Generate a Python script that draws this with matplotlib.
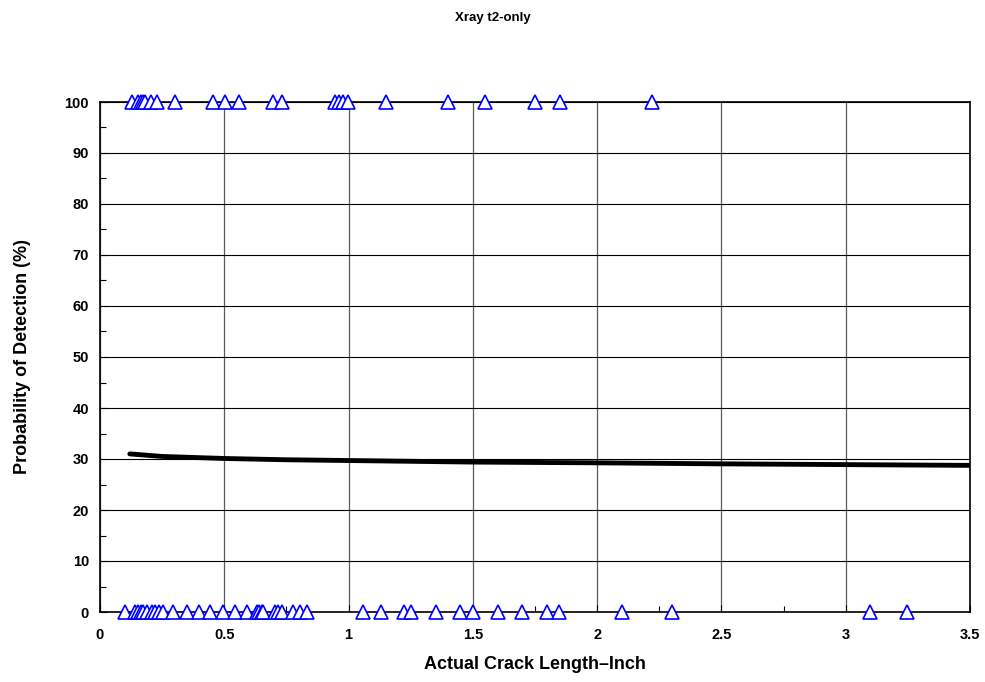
import matplotlib
matplotlib.use("Agg")
import matplotlib.pyplot as plt
from matplotlib.ticker import MultipleLocator

plt.rcParams['font.family'] = ['Liberation Sans', 'DejaVu Sans']

# Detected (hit) crack lengths, POD = 100
hit_x = [0.127, 0.154, 0.164, 0.172, 0.181, 0.204, 0.231, 0.302, 0.456, 0.503, 0.559,
         0.697, 0.731, 0.945, 0.963, 0.979, 0.999, 1.149, 1.401, 1.549, 1.750, 1.851, 2.220]
hit_y = [100] * len(hit_x)

# Missed crack lengths, POD = 0
miss_x = [0.100, 0.141, 0.153, 0.165, 0.173, 0.189, 0.209, 0.221, 0.237, 0.253, 0.294,
          0.350, 0.398, 0.443, 0.495, 0.543, 0.591, 0.632, 0.640, 0.652, 0.656, 0.704,
          0.716, 0.732, 0.776, 0.805, 0.833, 1.059, 1.129, 1.224, 1.251, 1.351, 1.448,
          1.502, 1.600, 1.699, 1.800, 1.848, 2.099, 2.300, 3.098, 3.248]
miss_y = [0] * len(miss_x)

# Fitted POD curve
curve_x = [0.12, 0.25, 0.5, 0.75, 1.0, 1.5, 2.0, 2.5, 3.0, 3.5]
curve_y = [31.0, 30.5, 30.1, 29.85, 29.7, 29.4, 29.25, 29.05, 28.9, 28.75]

title = "Xray t2-only"
xlabel = "Actual Crack Length\u2013Inch"
ylabel = "Probability of Detection (%)"

fig = plt.figure(figsize=(9.85, 6.82), dpi=100)
ax = fig.add_axes([100/985, (682-612)/682, 870/985, 510/682])

ax.set_xlim(0, 3.5)
ax.set_ylim(0, 100)
ax.xaxis.set_minor_locator(MultipleLocator(0.25))
ax.yaxis.set_minor_locator(MultipleLocator(5))
ax.xaxis.grid(True, which='major', color='0.35', linewidth=0.9)
ax.yaxis.grid(True, which='major', color='black', linewidth=0.8)
ax.set_axisbelow(True)
ax.tick_params(which='both', direction='in', labelsize=10.5, width=0.8)
ax.tick_params(which='major', length=5)
ax.tick_params(which='minor', length=4)
ax.set_xticks([0, 0.5, 1, 1.5, 2, 2.5, 3, 3.5])
ax.set_xticklabels(['0', '0.5', '1', '1.5', '2', '2.5', '3', '3.5'], fontweight='bold')
ax.set_yticks(range(0, 101, 10))
ax.set_yticklabels([str(v) for v in range(0, 101, 10)], fontweight='bold')
ax.tick_params(axis='x', pad=11.5)
ax.tick_params(axis='y', pad=8)
for s in ax.spines.values():
    s.set_linewidth(1.2)

ax.plot(curve_x, curve_y, color='black', linewidth=3.5, solid_capstyle='round', zorder=3)
ax.plot(hit_x, hit_y, linestyle='none', marker='^', markersize=9.5, markerfacecolor='white',
        markeredgecolor='blue', markeredgewidth=1.2, clip_on=False, zorder=4)
ax.plot(miss_x, miss_y, linestyle='none', marker='^', markersize=9.5, markerfacecolor='white',
        markeredgecolor='blue', markeredgewidth=1.2, clip_on=False, zorder=4)

ax.set_xlabel(xlabel, fontsize=13, fontweight='bold', labelpad=10)
ax.set_ylabel(ylabel, fontsize=13, fontweight='bold', labelpad=24)
fig.text(0.5, 1 - 18/682, title, ha='center', va='center', fontsize=9.5, fontweight='bold')

fig.savefig("out.png", dpi=100)
